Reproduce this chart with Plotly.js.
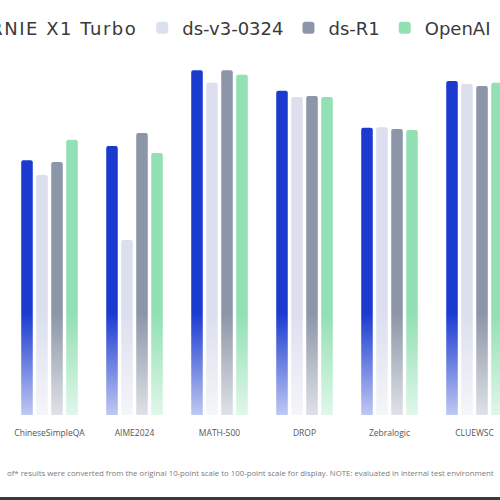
<!DOCTYPE html>
<html>
<head>
<meta charset="utf-8">
<script src="https://cdn.plot.ly/plotly-3.0.1.min.js"></script>
<style>
  html, body { margin: 0; padding: 0; background: #fff; }
  body { width: 500px; height: 500px; overflow: hidden; position: relative; }
  #chart { position: absolute; left: -78.5px; top: 0; width: 595px; height: 500px; }
  #frame { position: absolute; left: 0; top: 497px; width: 500px; height: 3px; background: #3a3a3a; }
</style>
</head>
<body>
<div id="chart"></div>
<div id="frame"></div>
<script>
// benchmarks (the picture is cropped on both sides)
var benchmarks = ['IFEval', 'ChineseSimpleQA', 'AIME2024', 'MATH-500', 'DROP', 'Zebralogic', 'CLUEWSC'];

// scores
var ernieX1Turbo = [88.0, 70.2, 74.1, 95.0, 89.3, 79.1, 92.0];
var dsV3 = [86.0, 66.1, 48.2, 91.5, 87.6, 79.3, 91.2];
var dsR1 = [87.0, 69.7, 77.7, 95.0, 87.9, 78.8, 90.6];
var openAI = [85.0, 75.8, 72.2, 93.7, 87.6, 78.5, 91.5];

var seriesNames = ['ERNIE X1 Turbo', 'ds-v3-0324', 'ds-R1', 'OpenAI'];
var seriesColors = ['#1b3bd0', '#dcdfee', '#8c96a8', '#92e0b3'];
var seriesValues = [ernieX1Turbo, dsV3, dsR1, openAI];

var donnees = seriesValues.map(function (vals, i) {
    // le premier nom est plus large dans l'original
    var nom = i === 0 ? '<span style="letter-spacing:1.5px">' + seriesNames[i] + '</span>' : seriesNames[i];
    return {
        x: benchmarks,
        y: vals,
        name: nom,
        type: 'bar',
        marker: { color: seriesColors[i], cornerradius: 2, line: { width: 0 } },
        hoverinfo: 'skip'
    };
});

// fade of the bars towards the baseline
var fade = '<svg xmlns="http://www.w3.org/2000/svg" width="10" height="100" preserveAspectRatio="none">' +
    '<defs><linearGradient id="g" x1="0" y1="0" x2="0" y2="1">' +
    '<stop offset="0" stop-color="#ffffff" stop-opacity="0"/>' +
    '<stop offset="1" stop-color="#ffffff" stop-opacity="0.72"/>' +
    '</linearGradient></defs><rect width="10" height="100" fill="url(#g)"/></svg>';

var layout = {
    width: 595,
    height: 500,
    margin: { l: 0, r: 0, t: 52, b: 85, pad: 0 },
    paper_bgcolor: '#ffffff',
    plot_bgcolor: '#ffffff',
    barmode: 'group',
    bargap: 0.294,
    bargroupgap: 0.23,
    font: { family: 'DejaVu Sans, sans-serif', color: '#333' },
    showlegend: true,
    legend: {
        orientation: 'h',
        x: 0.026,
        xanchor: 'left',
        y: 1.066,
        yanchor: 'middle',
        font: { family: 'DejaVu Sans, sans-serif', size: 18, color: '#3a3a3a' },
        bgcolor: 'rgba(0,0,0,0)',
        itemwidth: 30
    },
    xaxis: {
        range: [-0.5, 6.5],
        showgrid: false,
        zeroline: false,
        showline: false,
        ticks: '',
        ticklabelstandoff: 11,
        tickfont: { family: 'Open Sans, sans-serif', size: 8.5, color: '#555' }
    },
    yaxis: {
        range: [0, 100],
        visible: false,
        showgrid: false,
        zeroline: false
    },
    images: [{
        source: 'data:image/svg+xml;charset=utf-8,' + encodeURIComponent(fade),
        xref: 'paper', yref: 'y',
        x: 0, y: 28,
        sizex: 1, sizey: 28,
        xanchor: 'left', yanchor: 'top',
        sizing: 'stretch',
        layer: 'above'
    }],
    annotations: [{
        xref: 'paper', yref: 'paper',
        x: 0.552, y: -0.16,
        xanchor: 'center', yanchor: 'middle',
        showarrow: false,
        text: 'of* results were converted from the original 10-point scale to 100-point scale for display. NOTE: evaluated in internal test environment',
        font: { family: 'Open Sans, sans-serif', size: 7.8, color: '#7a7a7a' }
    }]
};

Plotly.newPlot('chart', donnees, layout, { displayModeBar: false, staticPlot: true });
</script>
</body>
</html>
